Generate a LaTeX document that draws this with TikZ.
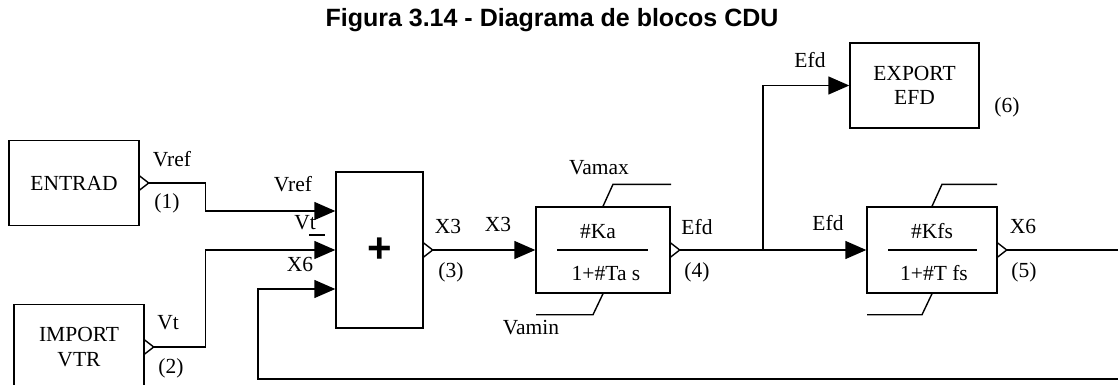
\documentclass[tikz,border=0pt]{standalone}
\usepackage{fontspec}
\setmainfont{Liberation Serif}
\newfontfamily\titlefont{Liberation Sans}
\usetikzlibrary{positioning,arrows.meta,calc}

% small open output mark on the right side of a block
\newcommand\outtick[1]{%
  \draw[wire] ([yshift=7pt]#1.east) -- ([xshift=9pt]#1.east) -- ([yshift=-7pt]#1.east);}

\begin{document}
\begin{tikzpicture}[
    x=1pt, y=-1pt,
    font=\fontsize{21.5}{24.5}\selectfont,
    wire/.style={line width=1.4pt, line join=miter},
    block/.style={draw, line width=1.4pt, inner sep=0pt, align=center},
    io/.style={block, minimum width=130pt, minimum height=85pt},
    tf/.style={block, minimum width=132pt, minimum height=86pt},
    arr/.style={wire, -{Triangle[length=21pt,width=18pt]}},
    lbl/.style={inner sep=0pt}
  ]
  \clip (0,0) rectangle (1118,385);

  % ---- title ----
  \node[font=\titlefont\bfseries\fontsize{25}{27}\selectfont] (title) at (552,20)
    {Figura 3.14 - Diagrama de blocos CDU};

  % ---- inputs ----
  \node[io] (entrad) at (74,183) {ENTRAD};
  \node[io] (import) at (79,347) {IMPORT\\VTR};
  \outtick{entrad}
  \outtick{import}
  \node[lbl] (vref1) at (172,159) {Vref};
  \node[lbl] (n1) at (167,203) {(1)};
  \node[lbl] (vt2) at (168,323) {Vt};
  \node[lbl] (n2) at (171,368) {(2)};

  % ---- summing block ----
  \node[block, minimum width=87pt, minimum height=156pt,
        font=\titlefont\bfseries\fontsize{42}{42}\selectfont] (sum) at (379.5,250) {+};
  \coordinate (in1) at ($(sum.west)+(0,-39)$);
  \coordinate (in3) at ($(sum.west)+(0,39)$);
  \node[lbl] (vrefin) at (293,184) {Vref};
  \node[lbl] (vtin) at (305,223) {Vt};
  \draw[wire] (309,235) -- (325,235);
  \node[lbl] (x6in) at (300,264) {X6};
  \draw[arr] ([xshift=9pt]entrad.east) -- ++(57,0) |- (in1);
  \draw[arr] ([xshift=9pt]import.east) -- ++(52,0) |- (sum.west);
  \outtick{sum}
  \node[lbl] (x3out) at (448,226) {X3};
  \node[lbl] (n3) at (451,272) {(3)};

  % ---- regulator Ka ----
  \node[tf, minimum width=134pt] (ka) at (603,250) {};
  \node[lbl] (kanum) at (598,232) {\#Ka};
  \node[lbl] (kaden) at (606,274) {1+\#Ta s};
  \draw[wire] ([xshift=-46pt]ka.center) -- ([xshift=45pt]ka.center);
  \draw[wire] (ka.north) -- ++(10,-22) -- ++(58,0);
  \draw[wire] (ka.south) -- ++(-10,21) -- ++(-57,0);
  \node[lbl] (vamax) at (599,168) {Vamax};
  \node[lbl] (vamin) at (531,328) {Vamin};
  \node[lbl] (x3in) at (498,224) {X3};
  \draw[arr] ([xshift=9pt]sum.east) -- (ka.west);
  \outtick{ka}
  \node[lbl] (efd4) at (697,227) {Efd};
  \node[lbl] (n4) at (697,272) {(4)};

  % ---- export and feedback Kfs ----
  \node[io, minimum width=129pt] (export) at (914.5,85.5) {EXPORT\\EFD};
  \node[lbl] (n6) at (1007,107) {(6)};
  \node[tf, minimum width=130pt] (kfs) at (932,250) {};
  \node[lbl] (kfsnum) at (932,231) {\#Kfs};
  \node[lbl] (kfsden) at (934,273) {1+\#T fs};
  \draw[wire] ([xshift=-44pt]kfs.center) -- ([xshift=45pt]kfs.center);
  \draw[wire] (kfs.north) -- ++(10,-22) -- ++(55,0);
  \draw[wire] (kfs.south) -- ++(-10,21) -- ++(-55,0);
  \coordinate (br) at (763,250);
  \draw[arr] ([xshift=9pt]ka.east) -- (kfs.west);
  \draw[arr] (br) |- (export.west);
  \node[lbl] (efd6) at (810,60) {Efd};
  \node[lbl] (efd5) at (828,223) {Efd};
  \outtick{kfs}
  \node[lbl] (x6out) at (1023,226) {X6};
  \node[lbl] (n5) at (1024,272) {(5)};

  % ---- feedback to the sum ----
  \coordinate (fbl) at (258,379);
  \draw[arr] ([xshift=9pt]kfs.east) -- ++(130,0) |- (fbl) |- (in3);

\end{tikzpicture}
\end{document}
